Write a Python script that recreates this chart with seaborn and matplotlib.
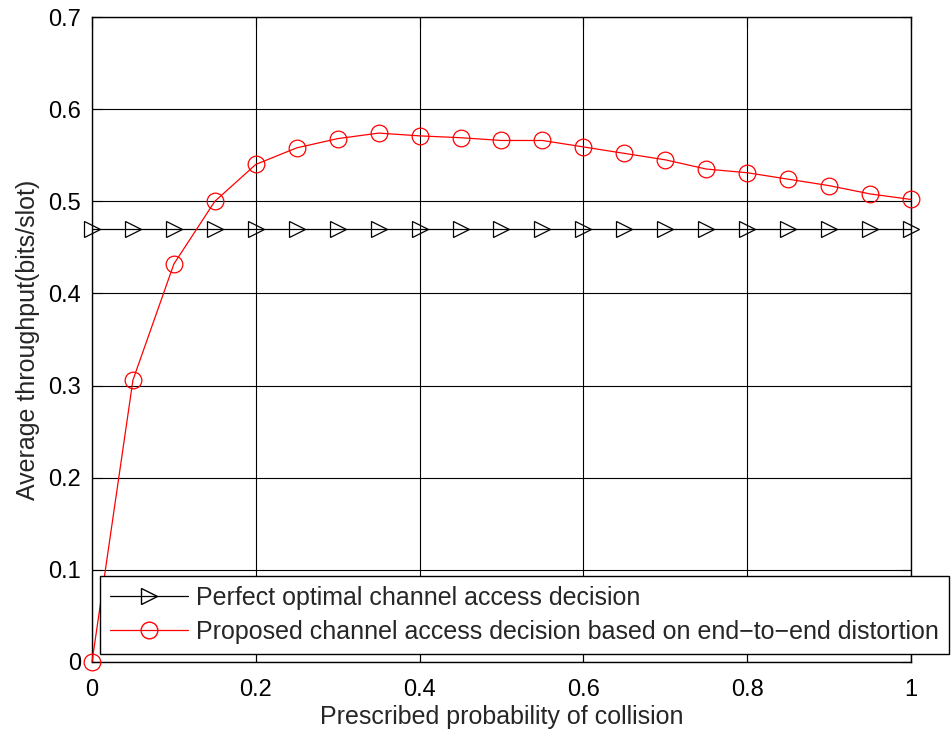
import numpy as np
import pandas as pd
import matplotlib
matplotlib.use("Agg")
import matplotlib.pyplot as plt
import seaborn as sns
from matplotlib.lines import Line2D

x_vals = [0.0, 0.05, 0.1, 0.15, 0.2, 0.25, 0.3, 0.35, 0.4, 0.45, 0.5,
          0.55, 0.6, 0.65, 0.7, 0.75, 0.8, 0.85, 0.9, 0.95, 1.0]
perfect = [0.470] * 21
proposed = [0.0, 0.306, 0.432, 0.500, 0.540, 0.558, 0.568, 0.574, 0.571, 0.569, 0.566,
            0.566, 0.559, 0.552, 0.545, 0.535, 0.531, 0.524, 0.517, 0.508, 0.502]
series_names = ["Perfect optimal channel access decision",
                "Proposed channel access decision based on end\u2212to\u2212end distortion"]
xticks = [0, 0.2, 0.4, 0.6, 0.8, 1]
xticklabels = ["0", "0.2", "0.4", "0.6", "0.8", "1"]
yticks = [0, 0.1, 0.2, 0.3, 0.4, 0.5, 0.6, 0.7]
yticklabels = ["0", "0.1", "0.2", "0.3", "0.4", "0.5", "0.6", "0.7"]

df = pd.DataFrame({
    "x": x_vals * 2,
    "y": perfect + proposed,
    "series": [series_names[0]] * len(x_vals) + [series_names[1]] * len(x_vals),
})

sns.set_style("white")
plt.rcParams['font.family'] = ['Liberation Sans', 'DejaVu Sans']

fig = plt.figure(figsize=(9.51, 7.31), dpi=100)
ax = fig.add_axes([92/951, (731-662)/731, (911-92)/951, (662-17)/731])

sns.lineplot(data=df, x="x", y="y", hue="series", style="series",
             palette={series_names[0]: "black", series_names[1]: "red"},
             markers={series_names[0]: ">", series_names[1]: "o"},
             dashes=False, ax=ax, linewidth=0.9, markersize=12,
             legend=False, zorder=3)
for line, c in zip(ax.lines, ["black", "red"]):
    line.set_markerfacecolor("none")
    line.set_markeredgecolor(c)
    line.set_markeredgewidth(0.9)
    line.set_clip_on(False)

ax.set_xlim(0, 1)
ax.set_ylim(0, 0.7)
ax.set_xticks(xticks)
ax.set_xticklabels(xticklabels)
ax.set_yticks(yticks)
ax.set_yticklabels(yticklabels)
ax.grid(True, color="black", linewidth=0.8, linestyle="-")
ax.set_axisbelow(True)
for s in ax.spines.values():
    s.set_color("black")
    s.set_linewidth(1.0)
ax.tick_params(direction="in", length=7, width=0.8, labelsize=17, colors="black",
               top=True, right=True, bottom=True, left=True)
ax.tick_params(axis="x", pad=12)
ax.tick_params(axis="y", pad=8)
ax.set_xlabel("Prescribed probability of collision", fontsize=18, labelpad=3)
ax.set_ylabel("Average throughput(bits/slot)", fontsize=18, labelpad=6)

handles = [
    Line2D([], [], color="black", marker=">", markersize=12, markerfacecolor="none",
           markeredgecolor="black", linewidth=0.9),
    Line2D([], [], color="red", marker="o", markersize=12, markerfacecolor="none",
           markeredgecolor="red", linewidth=0.9),
]
leg = fig.legend(handles, series_names, loc="lower left",
                 bbox_to_anchor=(100/951, (731-654)/731),
                 fontsize=18, frameon=True, fancybox=False, framealpha=1,
                 edgecolor="black", handlelength=3.1, handletextpad=0.35,
                 borderpad=0.4, labelspacing=0.42, borderaxespad=0)
leg.get_frame().set_linewidth(1.0)
leg.set_zorder(10)

fig.savefig("out.png", dpi=100, facecolor="white")
